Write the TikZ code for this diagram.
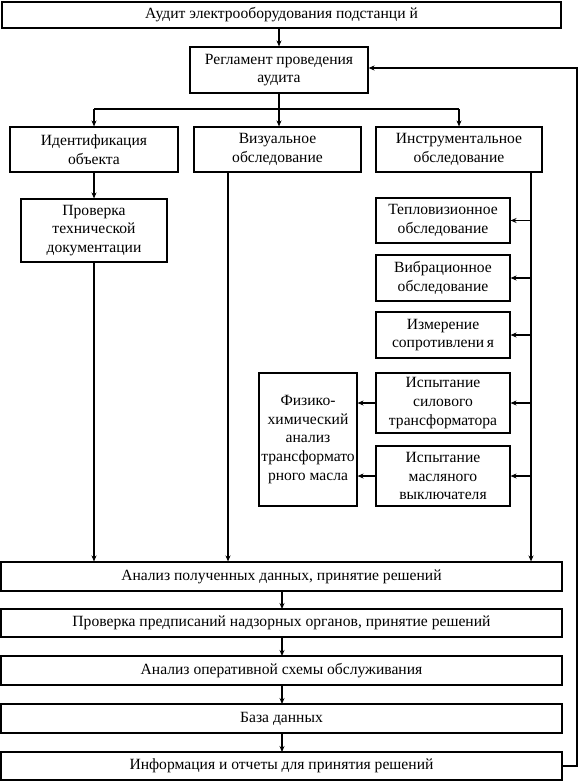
\documentclass[tikz,border=0pt]{standalone}
\usepackage{fontspec}
\setmainfont{Liberation Serif}
\usetikzlibrary{arrows.meta,calc}
\begin{document}
\begin{tikzpicture}[x=1pt,y=-1pt,
  box/.style={draw,line width=1.1pt,inner sep=0pt,align=center,font=\fontsize{15.6}{18.8}\selectfont},
  arr/.style={line width=1.1pt,-{Stealth[length=6pt,width=5pt]}},
  ln/.style={line width=1.1pt}]
\useasboundingbox (0,0) rectangle (579,781);
% boxes
\node[box,minimum width=559pt,minimum height=26pt] (top) at (281.5,15) {Аудит электрооборудования подстанци й};
\node[box,minimum width=178pt,minimum height=46pt] (reg) at (279,70) {Регламент проведения\\аудита};
\node[box,minimum width=168pt,minimum height=45pt] (ident) at (94,149.5) {Идентификация\\объекта};
\node[box,minimum width=167pt,minimum height=45pt] (vis) at (277.5,149.5) {Визуальное\\обследование};
\node[box,minimum width=166pt,minimum height=45pt] (instr) at (459,149.5) {Инструментальное\\обследование};
\node[box,minimum width=146pt,minimum height=63pt] (prov) at (94,230.5) {Проверка\\технической\\документации};
\node[box,minimum width=134pt,minimum height=45pt] (tepl) at (443,220.5) {Тепловизионное\\обследование};
\node[box,minimum width=134pt,minimum height=46pt] (vibr) at (443,278) {Вибрационное\\обследование};
\node[box,minimum width=134pt,minimum height=46pt] (izm) at (443,335) {Измерение\\сопротивлени\,я};
\node[box,minimum width=134pt,minimum height=60pt] (sil) at (443,403) {Испытание\\силового\\трансформатора};
\node[box,minimum width=134pt,minimum height=60pt] (masl) at (443,476) {Испытание\\масляного\\выключателя};
\node[box,minimum width=98pt,minimum height=133pt] (fiz) at (308,439.5) {Физико-\\химический\\анализ\\трансформато\\рного масла};
\node[box,minimum width=561pt,minimum height=29pt] (an1) at (281.5,576.5) {Анализ полученных данных, принятие решений};
\node[box,minimum width=561pt,minimum height=28pt] (an2) at (281.5,623) {Проверка предписаний надзорных органов, принятие решений};
\node[box,minimum width=561pt,minimum height=29pt] (an3) at (281.5,670.5) {Анализ оперативной схемы обслуживания};
\node[box,minimum width=561pt,minimum height=29pt] (db) at (281.5,718.5) {База данных};
\node[box,minimum width=561pt,minimum height=28pt] (info) at (281.5,766) {Информация и отчеты для принятия решений};
% coordinates
\coordinate (split) at (279,109);
\coordinate (visx) at (228,172);
\coordinate (insx) at (531,172);
\coordinate (fbx) at (577,68);
% connectors
\draw[arr] (reg.north |- top.south) -- (reg.north);
\draw[ln] (reg.south) -- (split);
\draw[ln] (ident.north |- split) -- (instr.north |- split);
\draw[arr] (ident.north |- split) -- (ident.north);
\draw[arr] (split) -- (split |- vis.north);
\draw[arr] (instr.north |- split) -- (instr.north);
\draw[arr] (ident.south) -- (prov.north);
\draw[arr] (prov.south) -- (prov.south |- an1.north);
\draw[arr] (visx |- vis.south) -- (visx |- an1.north);
\draw[arr] (insx |- instr.south) -- (insx |- an1.north);
\draw[arr] (insx |- tepl.east) -- (tepl.east);
\draw[arr] (insx |- vibr.east) -- (vibr.east);
\draw[arr] (insx |- izm.east) -- (izm.east);
\draw[arr] (insx |- sil.east) -- (sil.east);
\draw[arr] (insx |- masl.east) -- (masl.east);
\draw[arr] (sil.west) -- (fiz.east |- sil.west);
\draw[arr] (masl.west) -- (fiz.east |- masl.west);
\draw[arr] (282,591) -- (282,609);
\draw[arr] (282,637) -- (282,656);
\draw[arr] (282,685) -- (282,704);
\draw[arr] (282,733) -- (282,752);
\draw[arr] (info.east) -- (fbx |- info.east) -- (fbx) -- (reg.east |- fbx);
\end{tikzpicture}
\end{document}
